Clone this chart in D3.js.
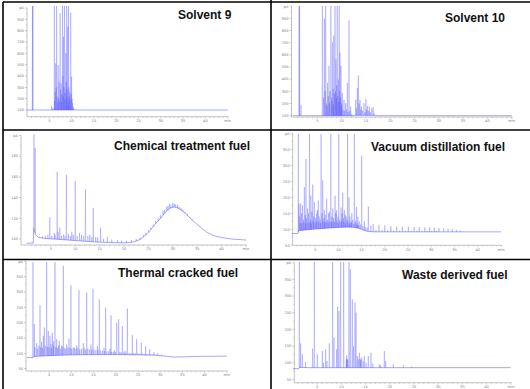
<!DOCTYPE html>
<html><head><meta charset="utf-8">
<script src="https://cdn.jsdelivr.net/npm/d3@7"></script>
<style>html,body{margin:0;padding:0;background:#fff;}svg{display:block;}</style>
</head><body>
<script>
// ---------- DATA (times in min, signal in pA) ----------
const titles = ["Solvent 9","Solvent 10","Chemical treatment fuel","Vacuum distillation fuel","Thermal cracked fuel","Waste derived fuel"];
const xMajorTicks = [5,10,15,20,25,30,35,40];
const xEndLabel = "min";
const yTicksSolvent = [100,200,300,400,500,600,700,800,900];
const yTicksChem = [100,120,140,160,180];
const yTicksFuel = [50,100,150,200,250,300,350];
const yUnit = "pA";

const s9Base = [[0.0,100],[45,100]];
const s9Peaks = [[1.22,1100],[1.32,1100],[5.5,135],[5.8,120],[6.13,1100],[6.2,180],[6.3,260],[6.43,512],[6.55,300],[6.65,1100],[6.8,220],[6.9,160],[7.0,497],[7.1,200],[7.2,350],[7.35,180],[7.43,953],[7.55,280],[7.65,335],[7.7,170],[7.8,240],[7.95,1100],[8.05,400],[8.1,220],[8.2,747],[8.3,300],[8.4,1100],[8.5,190],[8.55,250],[8.7,600],[8.8,350],[8.9,1100],[8.95,210],[9.0,280],[9.15,835],[9.25,170],[9.3,1100],[9.4,300],[9.5,218],[9.6,260],[9.7,190],[9.8,959],[9.9,240],[10.0,394],[10.1,200],[10.2,159],[10.35,130],[10.5,115]];

const s10Base = [[0.0,100],[12.5,100],[12.8,103],[16.6,103],[16.9,100],[45,100]];
const s10Peaks = [[1.25,1100],[1.35,1100],[1.64,189],[6.04,1100],[6.3,250],[6.45,897],[6.6,300],[6.72,1100],[6.9,200],[7.0,180],[7.1,370],[7.25,260],[7.4,508],[7.5,200],[7.6,300],[7.8,1100],[7.95,250],[8.0,220],[8.1,703],[8.25,320],[8.3,190],[8.4,758],[8.52,280],[8.64,1100],[8.75,300],[8.85,564],[8.9,240],[9.0,350],[9.1,1100],[9.2,260],[9.33,397],[9.4,210],[9.5,1100],[9.6,300],[9.67,619],[9.78,250],[9.88,508],[9.95,180],[10.0,200],[10.15,286],[10.3,150],[10.5,230],[10.65,140],[10.84,203],[11.0,150],[11.18,369],[11.35,130],[11.52,883],[11.7,140],[11.86,175],[12.1,115],[12.9,230],[13.05,160],[13.24,328],[13.44,430],[13.6,200],[13.78,230],[13.95,150],[14.1,175],[14.3,140],[14.6,203],[14.8,130],[15.0,236],[15.15,150],[15.3,180],[15.5,140],[15.7,175],[15.9,130],[16.2,161],[16.5,169],[16.7,120]];

const chemBase = [[0.0,96],[1.4,96],[1.5,110],[1.9,104],[2.5,101.5],[4,100.5],[7,99.5],[10,98.5],[13,97.5],[15,97],[18,96.5],[20,96.3],[21.5,96.8],[22.5,98],[23.5,100],[24.5,104],[25.5,109],[26.5,115],[27.5,120],[28.5,126],[29.5,130],[30.3,131],[31,130],[32,127],[33,123],[34,118],[35,114],[36,110],[37,106.5],[38,104],[39,102.5],[40,101.5],[42,100],[45,99]];
const chemPeaks = [[1.55,215],[1.8,188],[2.6,102],[3.3,102.5],[3.9,103],[4.4,104],[4.8,121],[5.2,103],[5.7,106],[5.9,104],[6.3,165],[6.5,107],[6.85,111],[7.2,103],[7.6,104],[7.9,103],[8.2,162],[8.6,105],[9.0,103],[9.3,107],[9.6,104],[10.0,156],[10.4,103],[10.9,106],[11.3,104],[11.7,103],[12.1,148],[12.6,103],[13.0,104],[13.4,102],[13.7,130],[14.2,102],[14.6,101.5],[15.2,111],[15.8,100],[16.6,102],[17.5,99.5],[18.7,99],[19.5,98.5],[20.5,98.5],[21.5,99],[22.5,100],[23.3,101.5],[24,104],[24.5,106],[25,108.5],[25.5,111],[26,114],[26.5,117.5],[27,120],[27.5,123],[28,127],[28.3,128],[28.7,131],[29,132],[29.3,134],[29.6,133],[30,135],[30.3,134],[30.6,133.5],[31,133],[31.3,131],[31.7,130],[32.1,128.5],[32.5,126],[33,124],[33.5,121],[34,119]];

const vacBase = [[0.0,87],[1.3,87],[1.5,96],[3,98],[5,101],[8,104],[10,106],[12,107],[13.5,106],[14.5,103],[15.5,97],[16.5,93],[18,92],[45,92]];
const vacPeaks = [[1.4,420],[1.55,180],[1.9,180],[2.3,175],[2.7,232],[3.05,320],[3.4,165],[3.8,420],[4.1,205],[4.5,240],[4.85,185],[5.35,150],[5.7,190],[6.3,420],[6.65,253],[7.0,160],[7.5,195],[7.9,150],[8.4,420],[8.8,165],[9.3,205],[9.6,160],[10.1,420],[10.6,168],[10.95,215],[11.3,160],[11.7,140],[12.0,420],[12.3,200],[12.9,150],[13.45,420],[13.9,170],[14.2,140],[14.5,125],[15.03,330],[15.6,125],[16.46,171],[17.0,112],
 [1.7,140],[2.1,150],[2.5,130],[2.9,145],[3.2,135],[3.6,150],[4.0,130],[4.3,155],[4.7,140],[5.1,135],[5.5,160],[5.9,140],[6.1,130],[6.5,150],[6.9,135],[7.2,145],[7.7,130],[8.1,155],[8.6,140],[9.0,135],[9.45,150],[9.9,140],[10.3,130],[10.8,150],[11.1,135],[11.5,145],[11.9,130],[12.5,140],[12.7,125],[13.1,130],[13.7,125],[14.0,120],[14.8,115],[15.3,110],[15.8,108],[16.2,105],
 [1.8,120],[2.2,118],[2.6,122],[3.0,118],[3.5,120],[3.9,122],[4.2,118],[4.6,125],[5.0,120],[5.3,125],[5.8,122],[6.2,120],[6.7,125],[7.1,122],[7.4,125],[7.8,120],[8.2,124],[8.5,122],[8.9,125],[9.2,122],[9.7,124],[10.0,120],[10.4,122],[10.7,125],[11.2,123],[11.6,120],[12.1,122],[12.4,118],[12.8,120],[13.3,118],[13.6,116],[14.1,114],[14.4,112],
 [17.5,117],[18.75,114],[20.0,112],[21.3,110],[22.55,109],[23.77,108],[25.06,108],[26.3,107],[27.4,107],[28.6,106],[29.65,106],[30.65,105],[31.65,104],[32.66,103],[33.6,101],[34.5,100],[35.4,98],[36.2,96],
 [18.1,98],[19.4,97],[20.6,97],[21.9,96],[23.2,96],[24.4,96],[25.7,95.5],[26.9,95.5],[28,95],[29.1,95],[30.1,95],[31.1,94.5]];

const thermBase = [[0.0,86],[1.3,86],[1.5,90],[3,91],[6,93],[10,95],[15,96],[20,96],[25,95],[29,94],[31,91],[33,88],[35,88.5],[38,90],[45,91]];
const thermPeaks = [[1.35,420],[1.65,195],[2.18,133],[2.93,257],[3.3,137],[3.68,157],[3.9,184],[4.43,420],[4.8,173],[5.18,157],[5.4,130],[5.7,167],[5.93,140],[6.3,420],[6.68,146],[7.28,140],[7.8,125],[8.18,385],[8.93,129],[9.46,148],[9.9,322],[10.43,120],[11.19,126],[11.7,306],[12.69,133],[13.44,298],[14.41,129],[14.86,311],[15.84,124],[16.29,276],[17.34,118],[17.72,249],[18.69,115],[18.92,224],[19.67,110],[20.2,200],[20.65,211],[21.47,189],[22.07,108],[22.6,246],[23.72,160],[24.7,146],[25.75,135],[26.73,124],[27.63,113],[28.6,104],[29.43,100],[30.33,96],
 [1.8,120],[2.4,115],[2.7,125],[3.1,120],[3.5,118],[4.1,125],[4.6,122],[5.0,120],[5.55,118],[6.0,125],[6.5,120],[6.9,118],[7.1,125],[7.5,115],[7.95,122],[8.4,118],[8.7,115],[9.2,120],[9.7,118],[10.1,115],[10.7,118],[11.0,115],[11.45,118],[11.9,112],[12.3,115],[12.9,118],[13.2,112],[13.7,115],[14.1,112],[14.6,113],[15.1,112],[15.5,110],[16.0,112],[16.6,110],[17.0,108],[17.5,108],[18.0,106],[18.4,107],[19.0,105],[19.4,105],[19.9,104],[20.9,104],[21.2,103],[21.8,103],[22.3,102],[23.0,102],[23.4,101],[24.0,101],[24.4,100],[25.0,100],[25.4,99],[26.0,99],[26.4,98],[27.0,98],[27.4,97],[28.0,96],[28.3,96],[29,95],[30,93],[31,91]];

const wasteBase = [[0.0,82],[1.2,82],[1.4,86],[3,85],[45,85]];
const wastePeaks = [[1.31,420],[1.58,158],[1.93,125],[2.62,102],[4.06,142],[4.41,420],[5.03,125],[6.06,135],[6.3,100],[6.75,140],[7.0,105],[7.51,158],[8.19,420],[8.47,175],[9.02,140],[9.23,268],[9.5,255],[9.85,420],[10.47,420],[11.0,110],[11.09,122],[11.2,112],[11.3,108],[11.57,420],[11.85,380],[12.26,290],[12.5,150],[12.81,280],[13.02,250],[13.29,120],[13.5,110],[13.71,130],[13.9,112],[14.0,108],[14.19,115],[14.5,105],[14.74,120],[15.1,100],[15.56,120],[16.12,130],[16.5,98],[17.84,95],[18.1,92],[18.87,135],[19.15,105],[20.73,95],[22.8,92],[24.5,88]];

// ---------- LAYOUT ----------
const panels = [
 {title:0, base:s9Base, peaks:s9Peaks, yt:yTicksSolvent, yTop:1000, x0:27, xpm:4.46, yAxX:27, yDom:[41,1000], yRng:[116.7,8], clipTop:6, tx:178, ty:19},
 {title:1, base:s10Base, peaks:s10Peaks, yt:yTicksSolvent, yTop:1000, x0:293, xpm:4.86, yAxX:291.5, yDom:[89,1000], yRng:[117,6.2], clipTop:6, tx:445, ty:22},
 {title:2, base:chemBase, peaks:chemPeaks, yt:yTicksChem, yTop:200, x0:26.4, xpm:4.88, yAxX:21, yDom:[94.2,200], yRng:[245,135.5], clipTop:134.5, tx:114, ty:150},
 {title:3, base:vacBase, peaks:vacPeaks, yt:yTicksFuel, yTop:400, x0:291.8, xpm:4.65, yAxX:292.7, yDom:[50,400], yRng:[245.3,133.3], clipTop:134, tx:371, ty:151},
 {title:4, base:thermBase, peaks:thermPeaks, yt:yTicksFuel, yTop:400, x0:27, xpm:4.44, yAxX:26, yDom:[42.5,400], yRng:[371,261.3], clipTop:262, tx:118, ty:277},
 {title:5, base:wasteBase, peaks:wastePeaks, yt:yTicksFuel, yTop:400, x0:293, xpm:4.84, yAxX:294.3, yDom:[39.8,400], yRng:[382.7,262.7], clipTop:262, tx:402, ty:279}
];

const W = 530, H = 389;
const svg = d3.select("body").append("svg").attr("width", W).attr("height", H);
svg.append("rect").attr("width", W).attr("height", H).attr("fill", "#fff");
const defs = svg.append("defs");
const traceColor = "#4a4aff";
const axisColor = "#9a9a9a";
const labelColor = "#808080";

function baseAt(base, t) {
  const i = d3.bisector(d => d[0]).left(base, t);
  if (i <= 0) return base[0][1];
  if (i >= base.length) return base[base.length - 1][1];
  const a = base[i - 1], b = base[i];
  return a[1] + (b[1] - a[1]) * (t - a[0]) / (b[0] - a[0]);
}

panels.forEach((p, k) => {
  const x = d3.scaleLinear().domain([0, 45]).range([p.x0, p.x0 + 45 * p.xpm]);
  const y = d3.scaleLinear().domain(p.yDom).range(p.yRng);
  const g = svg.append("g");
  const axY = p.yRng[0];

  // y axis
  g.append("line").attr("x1", p.yAxX).attr("x2", p.yAxX).attr("y1", axY).attr("y2", y(p.yTop))
    .attr("stroke", axisColor).attr("stroke-width", 0.6);
  const yAll = p.yt.concat([p.yTop]);
  yAll.forEach((v, i) => {
    g.append("line").attr("x1", p.yAxX - 2).attr("x2", p.yAxX).attr("y1", y(v)).attr("y2", y(v))
      .attr("stroke", axisColor).attr("stroke-width", 0.5);
    g.append("text").attr("x", p.yAxX - 3).attr("y", y(v) + 1.3).attr("text-anchor", "end")
      .attr("font-family", "DejaVu Sans").attr("font-size", 3.6).attr("fill", labelColor)
      .text(i === yAll.length - 1 ? yUnit : v);
  });
  const step = p.yt[1] - p.yt[0];
  d3.range(p.yt[0] + step / 2, p.yTop, step).forEach(v => {
    g.append("line").attr("x1", p.yAxX - 1).attr("x2", p.yAxX).attr("y1", y(v)).attr("y2", y(v))
      .attr("stroke", axisColor).attr("stroke-width", 0.4);
  });

  // x axis
  g.append("line").attr("x1", p.yAxX).attr("x2", x(45) + 1).attr("y1", axY).attr("y2", axY)
    .attr("stroke", axisColor).attr("stroke-width", 0.6);
  d3.range(1, 46).forEach(t => {
    const major = t % 5 === 0;
    g.append("line").attr("x1", x(t)).attr("x2", x(t)).attr("y1", axY).attr("y2", axY + (major ? 2 : 1.2))
      .attr("stroke", axisColor).attr("stroke-width", 0.4);
  });
  xMajorTicks.forEach(t => {
    g.append("text").attr("x", x(t)).attr("y", axY + 5.2).attr("text-anchor", "middle")
      .attr("font-family", "DejaVu Sans").attr("font-size", 3.6).attr("fill", labelColor).text(t);
  });
  g.append("text").attr("x", x(45)).attr("y", axY + 5.2).attr("text-anchor", "middle")
    .attr("font-family", "DejaVu Sans").attr("font-size", 3.6).attr("fill", labelColor).text(xEndLabel);

  // clip
  const cid = "clip" + k;
  defs.append("clipPath").attr("id", cid).append("rect")
    .attr("x", x(0) - 1).attr("y", p.clipTop).attr("width", x(45) - x(0) + 2).attr("height", axY - p.clipTop);
  const tg = g.append("g").attr("clip-path", `url(#${cid})`);

  // baseline trace
  tg.append("path").datum(p.base)
    .attr("d", d3.line().x(d => x(d[0])).y(d => y(d[1])))
    .attr("fill", "none").attr("stroke", traceColor).attr("stroke-width", 0.7).attr("stroke-opacity", 0.7);

  // peaks
  const w = 0.06;
  tg.selectAll("path.pk").data(p.peaks).join("path").attr("class", "pk")
    .attr("d", d => {
      const b = baseAt(p.base, d[0]);
      return d3.line()([[x(d[0] - w), y(b)], [x(d[0]), y(d[1])], [x(d[0] + w), y(b)]]);
    })
    .attr("fill", "none").attr("stroke", traceColor).attr("stroke-width", 0.6).attr("stroke-opacity", 0.45)
    .attr("stroke-linejoin", "round");

  // title
  svg.append("text").attr("x", p.tx).attr("y", p.ty)
    .attr("font-family", "Liberation Sans, Arial, sans-serif").attr("font-weight", "bold")
    .attr("font-size", 12).attr("fill", "#111").text(titles[p.title]);
});

// grid borders
const grid = svg.append("g").attr("stroke", "#000").attr("stroke-width", 1.6);
grid.append("line").attr("x1", 3).attr("x2", W).attr("y1", 2).attr("y2", 2);
grid.append("line").attr("x1", 3).attr("x2", W).attr("y1", 130).attr("y2", 130);
grid.append("line").attr("x1", 3).attr("x2", W).attr("y1", 259.5).attr("y2", 259.5);
grid.append("line").attr("x1", 271).attr("x2", 271).attr("y1", 0).attr("y2", H);
grid.append("line").attr("x1", 3).attr("x2", 3).attr("y1", 2).attr("y2", H);
</script>
</body></html>
